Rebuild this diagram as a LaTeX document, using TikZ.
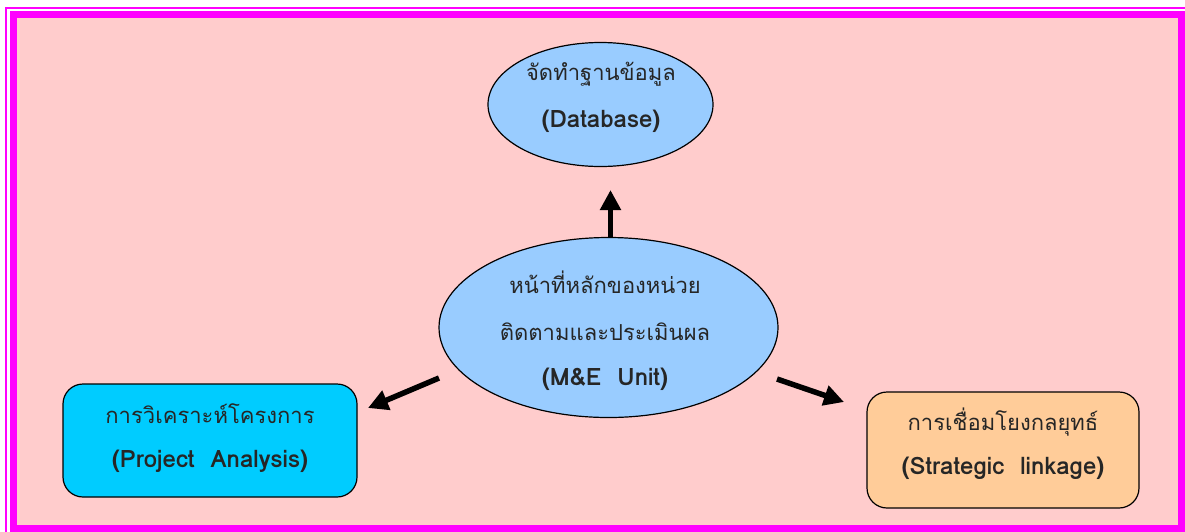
\documentclass[tikz,border=0pt]{standalone}
\usepackage{fontspec}
\newfontfamily\thaifont[Script=Thai]{Loma}
\newfontfamily\latfont{Loma}
\usetikzlibrary{arrows.meta,shapes.geometric}
\definecolor{bgpink}{HTML}{FFCCCC}
\definecolor{frame}{HTML}{FF00FF}
\definecolor{ellblue}{HTML}{99CCFF}
\definecolor{boxcyan}{HTML}{00CCFF}
\definecolor{boxorange}{HTML}{FFCC99}
\tikzset{
  ell/.style={ellipse, draw=black, line width=1.2pt, fill=ellblue, inner sep=0pt},
  rbox/.style={rectangle, rounded corners=20pt, draw=black, line width=1.2pt, inner sep=0pt},
  thtxt/.style={font=\thaifont\fontsize{22}{25}\selectfont, text=black!85},
  entxt/.style={font=\latfont\bfseries\fontsize{24}{27}\selectfont, text=black!85},
  bigarrow/.style={line width=5.5pt, -{Triangle[length=20pt,width=20pt]}},
}
\begin{document}
\begin{tikzpicture}[x=1pt,y=-1pt]
\useasboundingbox (0,0) rectangle (1185,531);
\fill[white] (0,0) rectangle (1185,531);
\draw[frame, line width=2pt] (5.5,8) rectangle (1192,540);
\fill[bgpink] (13.5,14.5) rectangle (1181.5,528.5);
\draw[frame, line width=7pt] (13.5,14.5) rectangle (1181.5,528.5);

\node[ell, minimum width=225pt, minimum height=124pt] (db) at (600.5,104.5) {};
\node[thtxt] (dbt) at (601,74) {จัดทำฐานข้อมูล};
\node[entxt] (dbe) at (601,121) {(Database)};

\node[ell, minimum width=339pt, minimum height=180pt] (me) at (608.5,327.5) {};
\node[thtxt] (me1) at (605,282) {หน้าที่หลักของหน่วย};
\node[thtxt] (me2) at (605,332) {ติดตามและประเมินผล};
\node[entxt] (me3) at (605,379) {(M\&E\ \ Unit)};

\node[rbox, fill=boxcyan, minimum width=294pt, minimum height=113pt] (pa) at (210,440.5) {};
\node[thtxt] (pa1) at (210,414) {การวิเคราะห์โครงการ};
\node[entxt] (pa2) at (210,461) {(Project\ \ Analysis)};

\node[rbox, fill=boxorange, minimum width=272pt, minimum height=116pt] (sl) at (1003,450) {};
\node[thtxt] (sl1) at (1003,422) {การเชื่อมโยงกลยุทธ์};
\node[entxt] (sl2) at (1003,468) {(Strategic\ \ linkage)};

\coordinate (a1s) at (610.5,238);
\coordinate (a1e) at (610.5,190);
\coordinate (a2s) at (439,378);
\coordinate (a2e) at (368,408);
\coordinate (a3s) at (777,379);
\coordinate (a3e) at (844,402);
\draw[bigarrow] (a1s) -- (a1e);
\draw[bigarrow] (a2s) -- (a2e);
\draw[bigarrow] (a3s) -- (a3e);
\end{tikzpicture}
\end{document}
